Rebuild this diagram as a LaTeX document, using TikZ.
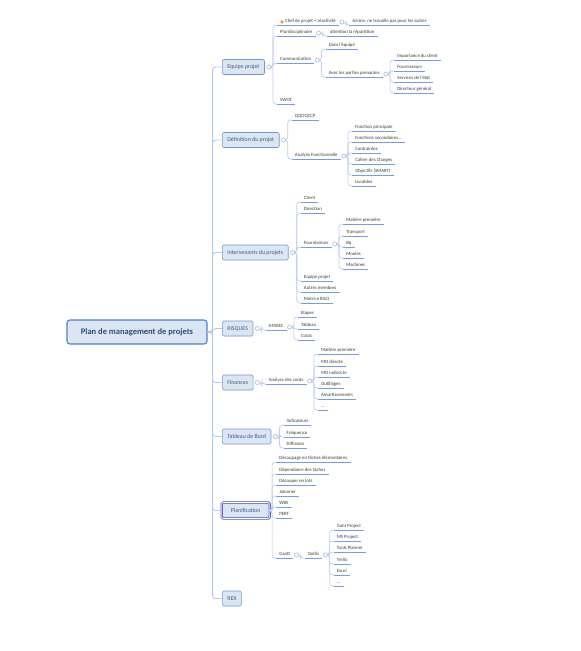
\documentclass[tikz,border=0pt]{standalone}
\usepackage{fontspec}
\setmainfont{Carlito}
\definecolor{boxfill}{HTML}{DCE6F3}
\definecolor{boxdraw}{HTML}{6A97D8}
\definecolor{boxtext}{HTML}{3B5A84}
\definecolor{rootdraw}{HTML}{4E80CC}
\definecolor{roottext}{HTML}{2F4B78}
\definecolor{planblue}{HTML}{4654B8}
\definecolor{conncol}{HTML}{BBD0EE}
\definecolor{trunkcol}{HTML}{AFC8EC}
\definecolor{ulcol}{HTML}{739EE0}
\definecolor{leaftext}{HTML}{3A3A3A}
\definecolor{togcol}{HTML}{A9BEDC}
\definecolor{dotcol}{HTML}{F5A02A}
\tikzset{
  trunk/.style={draw=trunkcol, line width=0.8pt, rounded corners=3pt},
  conn/.style={draw=conncol, line width=0.7pt, rounded corners=3pt},
  ul/.style={draw=ulcol, line width=0.7pt},
  rootbox/.style={draw=rootdraw, line width=1.1pt, fill=boxfill, rounded corners=3pt,
    minimum width=140pt, minimum height=24pt, font=\fontsize{8.5}{10}\selectfont\bfseries, text=roottext},
  lvlone/.style={draw=boxdraw, fill=boxfill, rounded corners=1.5pt, line width=0.6pt,
    font=\fontsize{5.9}{7}\selectfont, text=boxtext, inner xsep=5pt, inner ysep=0pt,
    minimum height=15pt, anchor=west},
  planstyle/.style={draw=planblue, double=white, double distance=0.7pt, line width=0.8pt,
    minimum height=16pt, minimum width=48pt},
  leaf/.style={font=\fontsize{4.8}{5.7}\selectfont, text=leaftext, inner xsep=3pt, inner ysep=1.2pt,
    text height=3.4pt, text depth=1.2pt, anchor=south west},
  tog/.style={circle, draw=togcol, fill=white, line width=0.5pt, inner sep=0pt, minimum size=4pt},
  dotm/.style={circle, fill=dotcol, inner sep=0pt, minimum size=3.6pt},
}
\newcommand\mmkids[3]{\foreach \c in {#3} {\draw[conn] (#1.east) -- ++(#2,0) |- (\c.south west);}}
\begin{document}
\begin{tikzpicture}[x=1pt,y=-1pt]
\useasboundingbox (0,0) rectangle (581,651);
\fill[white] (0,0) rectangle (581,651);

% root and main branches
\node[rootbox] (root) at (137,332) {Plan de management de projets};
\node[lvlone] (eq) at (222,67) {Equipe projet};
\node[lvlone] (def) at (222,140) {Définition du projet};
\node[lvlone] (int) at (222,252.5) {Intervenants du projets};
\node[lvlone] (risk) at (222,328.5) {RISQUES};
\node[lvlone] (fin) at (222,382.5) {Finances};
\node[lvlone] (tab) at (222,436.5) {Tableau de Bord};
\node[lvlone, planstyle] (plan) at (221.3,510.5) {Planification};
\node[lvlone] (rex) at (222,598.5) {REX};

\node[tog] (eqC) at ([xshift=4pt]eq.east) {};
\node[tog] (defC) at ([xshift=4pt]def.east) {};
\node[tog] (intC) at ([xshift=4pt]int.east) {};
\node[tog] (riskC) at ([xshift=4pt]risk.east) {};
\node[tog] (finC) at ([xshift=4pt]fin.east) {};
\node[tog] (tabC) at ([xshift=4pt]tab.east) {};
\coordinate (eqX) at ([xshift=6pt]eqC.east);
\coordinate (defX) at ([xshift=6pt]defC.east);
\coordinate (intX) at ([xshift=6pt]intC.east);
\coordinate (riskX) at ([xshift=6pt]riskC.east);
\coordinate (finX) at ([xshift=6pt]finC.east);
\coordinate (tabX) at ([xshift=6pt]tabC.east);
\coordinate (planX) at ([xshift=6pt]plan.east);

% Equipe projet
\node[leaf] (chef) at (eqX |- 0,25) {\hspace{5pt}Chef de projet = réactivité};
\node[dotm] (chefdot) at ([xshift=5pt,yshift=3pt]chef.south west) {};
\node[tog] (chefC) at ([xshift=3pt,yshift=3pt]chef.south east) {};
\coordinate (chefX) at ([xshift=5pt]chefC.east);
\node[leaf] (anime) at (chefX |- 0,25) {Anime, ne travaille pas pour les autres};
\node[leaf] (plur) at (eqX |- 0,36) {Pluridisciplinaire};
\node[tog] (plurC) at ([xshift=3pt,yshift=3pt]plur.south east) {};
\coordinate (plurX) at ([xshift=6pt]plurC.east);
\node[leaf] (att) at (plurX |- 0,36) {attention la répartition};
\node[leaf] (comm) at (eqX |- 0,63) {Communication};
\node[tog] (commC) at ([xshift=3pt,yshift=3pt]comm.south east) {};
\coordinate (commX) at ([xshift=6pt]commC.east);
\node[leaf] (dans) at (commX |- 0,49) {Dans l'équipe};
\node[leaf] (avec) at (commX |- 0,77) {Avec les parties prenantes};
\node[tog] (avecC) at ([xshift=3pt,yshift=3pt]avec.south east) {};
\coordinate (avecX) at ([xshift=6pt]avecC.east);
\node[leaf] (imp) at (avecX |- 0,60) {Importance du client};
\node[leaf] (four) at (avecX |- 0,71) {Fournisseurs};
\node[leaf] (serv) at (avecX |- 0,82) {Services de l'état};
\node[leaf] (dirg) at (avecX |- 0,93) {Directeur général};
\node[leaf] (swot) at (eqX |- 0,104) {SWOT};

% Definition du projet
\node[leaf] (qqo) at (defX |- 0,120) {QQOQCCP};
\node[leaf] (anaf) at (defX |- 0,159) {Analyse Fonctionnelle};
\node[tog] (anafC) at ([xshift=3pt,yshift=3pt]anaf.south east) {};
\coordinate (anafX) at ([xshift=6pt]anafC.east);
\node[leaf] (fp) at (anafX |- 0,131) {Fonction principale};
\node[leaf] (fs) at (anafX |- 0,142) {Fonctions secondaires...};
\node[leaf] (cont) at (anafX |- 0,153) {Contraintes};
\node[leaf] (cdc) at (anafX |- 0,164) {Cahier des Charges};
\node[leaf] (obj) at (anafX |- 0,175) {Objectifs (SMART)};
\node[leaf] (liv) at (anafX |- 0,186) {Livrables};

% Intervenants
\node[leaf] (client) at (intX |- 0,202) {Client};
\node[leaf] (direc) at (intX |- 0,213) {Direction};
\node[leaf] (fourn) at (intX |- 0,247) {Fournisseurs};
\node[tog] (fournC) at ([xshift=3pt,yshift=3pt]fourn.south east) {};
\coordinate (fournX) at ([xshift=6pt]fournC.east);
\node[leaf] (mp) at (fournX |- 0,224) {Matière première};
\node[leaf] (transp) at (fournX |- 0,236) {Transport};
\node[leaf] (bq) at (fournX |- 0,247) {Bq};
\node[leaf] (moules) at (fournX |- 0,258) {Moules};
\node[leaf] (mach) at (fournX |- 0,269) {Machines};
\node[leaf] (eqp) at (intX |- 0,281) {Equipe projet};
\node[leaf] (autres) at (intX |- 0,292) {Autres membres};
\node[leaf] (raci) at (intX |- 0,303) {Matrice RACI};

% Risques
\node[leaf] (amdec) at (riskX |- 0,330) {AMDEC};
\node[tog] (amdecC) at ([xshift=3pt,yshift=3pt]amdec.south east) {};
\coordinate (amdecX) at ([xshift=6pt]amdecC.east);
\node[leaf] (etapes) at (amdecX |- 0,317) {Etapes};
\node[leaf] (tabl) at (amdecX |- 0,329) {Tableau};
\node[leaf] (couts) at (amdecX |- 0,340) {Coûts};

% Finances
\node[leaf] (anac) at (finX |- 0,384) {Analyse des coûts};
\node[tog] (anacC) at ([xshift=3pt,yshift=3pt]anac.south east) {};
\coordinate (anacX) at ([xshift=6pt]anacC.east);
\node[leaf] (mpb) at (anacX |- 0,354) {Matière première};
\node[leaf] (mod) at (anacX |- 0,366) {MO directe};
\node[leaf] (moi) at (anacX |- 0,377) {MO indirecte};
\node[leaf] (outil) at (anacX |- 0,388) {Outillages};
\node[leaf] (amort) at (anacX |- 0,399) {Amortissements};
\node[leaf] (dda) at (anacX |- 0,410) {...};

% Tableau de bord
\node[leaf] (ind) at (tabX |- 0,425) {Indicateurs};
\node[leaf] (freq) at (tabX |- 0,437) {Fréquence};
\node[leaf] (diff) at (tabX |- 0,448) {Diffusion};

% Planification
\node[leaf] (dec) at (planX |- 0,462) {Découpage en tâches élémentaires};
\node[leaf] (dep) at (planX |- 0,474) {Dépendance des tâches};
\node[leaf] (lots) at (planX |- 0,485) {Découper en lots};
\node[leaf] (jal) at (planX |- 0,496) {Jalonner};
\node[leaf] (wbs) at (planX |- 0,507) {WBS};
\node[leaf] (pert) at (planX |- 0,518) {PERT};
\node[leaf] (gantt) at (planX |- 0,558) {Gantt};
\node[tog] (ganttC) at ([xshift=3pt,yshift=3pt]gantt.south east) {};
\coordinate (ganttX) at ([xshift=6pt]ganttC.east);
\node[leaf] (outils) at (ganttX |- 0,558) {Outils};
\node[tog] (outilsC) at ([xshift=3pt,yshift=3pt]outils.south east) {};
\coordinate (outilsX) at ([xshift=6pt]outilsC.east);
\node[leaf] (gp) at (outilsX |- 0,530) {Gant Project};
\node[leaf] (msp) at (outilsX |- 0,541) {MS Project};
\node[leaf] (tp) at (outilsX |- 0,552) {Tools Planner};
\node[leaf] (trello) at (outilsX |- 0,564) {Trello};
\node[leaf] (excel) at (outilsX |- 0,575) {Excel};
\node[leaf] (ddb) at (outilsX |- 0,586) {...};

% connectors
\foreach \b in {eq,def,int,risk,fin,tab,plan,rex} {\draw[trunk] (root.east) -- ++(5,0) |- (\b.west);}
\mmkids{eqC}{2}{chef,plur,comm,swot}
\mmkids{chefC}{2}{anime}
\mmkids{plurC}{2}{att}
\mmkids{commC}{2}{dans,avec}
\mmkids{avecC}{2}{imp,four,serv,dirg}
\mmkids{defC}{2}{qqo,anaf}
\mmkids{anafC}{2}{fp,fs,cont,cdc,obj,liv}
\mmkids{intC}{2}{client,direc,fourn,eqp,autres,raci}
\mmkids{fournC}{2}{mp,transp,bq,moules,mach}
\mmkids{riskC}{2}{amdec}
\mmkids{amdecC}{2}{etapes,tabl,couts}
\mmkids{finC}{2}{anac}
\mmkids{anacC}{2}{mpb,mod,moi,outil,amort,dda}
\mmkids{tabC}{2}{ind,freq,diff}
\mmkids{plan}{2}{dec,dep,lots,jal,wbs,pert,gantt}
\mmkids{ganttC}{2}{outils}
\mmkids{outilsC}{2}{gp,msp,tp,trello,excel,ddb}

\foreach \n in {chef,anime,plur,att,comm,dans,avec,imp,four,serv,dirg,swot,
  qqo,anaf,fp,fs,cont,cdc,obj,liv,
  client,direc,fourn,mp,transp,bq,moules,mach,eqp,autres,raci,
  amdec,etapes,tabl,couts,anac,mpb,mod,moi,outil,amort,dda,
  ind,freq,diff,dec,dep,lots,jal,wbs,pert,gantt,outils,gp,msp,tp,trello,excel,ddb}
  {\draw[ul] (\n.south west) -- (\n.south east);}

% toggles on top of the connectors
\foreach \t in {eqC,defC,intC,riskC,finC,tabC,chefC,plurC,commC,avecC,anafC,fournC,amdecC,anacC,ganttC,outilsC}
  {\draw[togcol, fill=white, line width=0.5pt] (\t) circle (2pt);}
\end{tikzpicture}
\end{document}
